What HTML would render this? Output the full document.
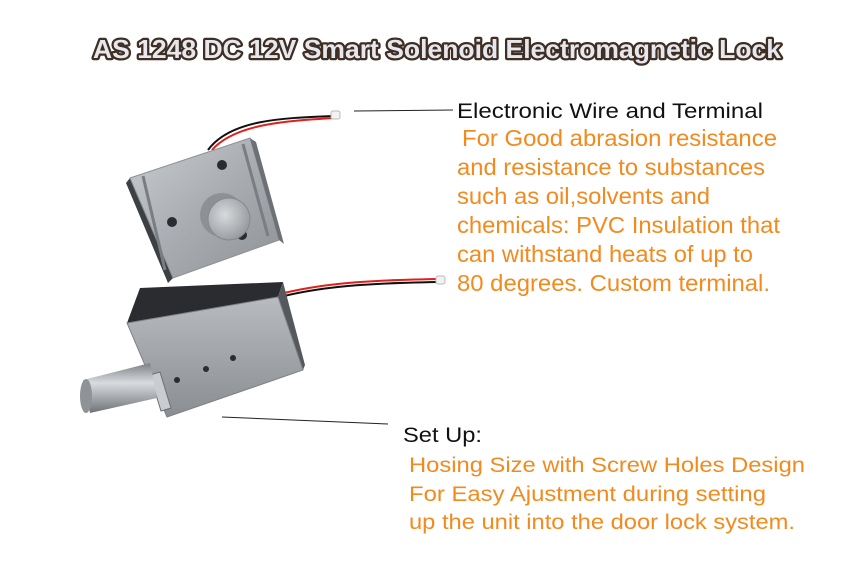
<!DOCTYPE html>
<html><head><meta charset="utf-8"><style>
html,body{margin:0;padding:0;background:#fff;}
svg{display:block}
.o{fill:#f28a1e;font-family:"Liberation Sans",sans-serif;}
.b{fill:#111;font-family:"Liberation Sans",sans-serif;}
</style></head><body>
<svg width="850" height="571" viewBox="0 0 850 571" xmlns="http://www.w3.org/2000/svg">
<defs>
<linearGradient id="m1" x1="0" y1="0" x2="1" y2="1"><stop offset="0" stop-color="#c9cccf"/><stop offset="0.5" stop-color="#a9adb2"/><stop offset="1" stop-color="#8e9297"/></linearGradient>
<linearGradient id="m2" x1="0" y1="0" x2="0" y2="1"><stop offset="0" stop-color="#b8bcc0"/><stop offset="1" stop-color="#8a8e93"/></linearGradient>
<linearGradient id="sh" x1="0" y1="0" x2="0" y2="1"><stop offset="0" stop-color="#7c8085"/><stop offset="0.4" stop-color="#d9dcdf"/><stop offset="1" stop-color="#6e7277"/></linearGradient>
<radialGradient id="cap" cx="0.4" cy="0.4" r="0.6"><stop offset="0" stop-color="#d8dadc"/><stop offset="1" stop-color="#9a9ea3"/></radialGradient>
</defs>
<text x="437" y="58" text-anchor="middle" textLength="688" lengthAdjust="spacingAndGlyphs" font-family="Liberation Sans,sans-serif" font-weight="bold" font-size="26" fill="#e6e8ee" stroke="#3e2e24" stroke-width="4.5" paint-order="stroke" stroke-linejoin="round">AS 1248 DC 12V Smart Solenoid Electromagnetic Lock</text>

<path d="M208,150 C230,120 280,118 334,116" fill="none" stroke="#111" stroke-width="2"/>
<path d="M212,150 C235,124 285,121 334,118" fill="none" stroke="#e0201c" stroke-width="2"/>
<rect x="331" y="111" width="9" height="8" rx="2" fill="#f2f2f2" stroke="#bbb"/>
<polygon points="130,178 126,183 168,283 173,278" fill="#3c3f44"/>
<polygon points="130,178 250,138 279,240 173,278" fill="url(#m1)" stroke="#8d9196"/>
<polygon points="250,138 256,142 284,244 279,240" fill="#6d7176"/>
<line x1="143" y1="176" x2="165" y2="270" stroke="#7a7e83" stroke-width="3"/>
<line x1="243" y1="144" x2="268" y2="236" stroke="#7a7e83" stroke-width="3"/>
<circle cx="222" cy="165" r="5" fill="#2a2c30"/>
<circle cx="172" cy="222" r="5" fill="#2a2c30"/>
<circle cx="242" cy="235" r="5" fill="#2a2c30"/>
<circle cx="222" cy="215" r="22" fill="#8d9196"/>
<circle cx="229" cy="219" r="21" fill="url(#cap)" stroke="#85898e"/>

<path d="M284,296 C330,285 380,283 438,282" fill="none" stroke="#111" stroke-width="2"/>
<path d="M284,293 C330,282 380,280 438,279" fill="none" stroke="#e0201c" stroke-width="2"/>
<rect x="436" y="276" width="9" height="8" rx="2" fill="#f2f2f2" stroke="#bbb"/>
<polygon points="127,323 140,288 283,282 278,297" fill="#2a2c30"/>
<polygon points="278,297 283,282 305,365 303,370" fill="#55595e"/>
<polygon points="127,323 278,297 303,370 167,417" fill="url(#m2)" stroke="#7d8186"/>
<polygon points="150,375 160,372 171,408 161,411" fill="#c9ccd0" stroke="#6d7176"/>
<polygon points="83,380 150,363 157,398 90,413" fill="url(#sh)"/>
<ellipse cx="86" cy="396" rx="6" ry="17" fill="#8f9398"/>
<circle cx="177" cy="380" r="3" fill="#2a2c30"/>
<circle cx="206" cy="369" r="3" fill="#2a2c30"/>
<circle cx="233" cy="358" r="3" fill="#2a2c30"/>

<line x1="354" y1="111" x2="453" y2="110" stroke="#222" stroke-width="1"/>
<line x1="222" y1="417" x2="388" y2="424" stroke="#222" stroke-width="1"/>

<text class="b" x="457" y="118" font-size="21" textLength="306" lengthAdjust="spacingAndGlyphs">Electronic Wire and Terminal</text>
<g class="o" font-size="23">
<text x="462" y="146" textLength="315" lengthAdjust="spacingAndGlyphs">For Good abrasion resistance</text>
<text x="457" y="175" textLength="308" lengthAdjust="spacingAndGlyphs">and resistance to substances</text>
<text x="457" y="204" textLength="253" lengthAdjust="spacingAndGlyphs">such as oil,solvents and</text>
<text x="457" y="233" textLength="323" lengthAdjust="spacingAndGlyphs">chemicals: PVC Insulation that</text>
<text x="457" y="262" textLength="296" lengthAdjust="spacingAndGlyphs">can withstand heats of up to</text>
<text x="457" y="291" textLength="313" lengthAdjust="spacingAndGlyphs">80 degrees. Custom terminal.</text>
</g>
<text class="b" x="403" y="442" font-size="21" textLength="79" lengthAdjust="spacingAndGlyphs">Set Up:</text>
<g class="o" font-size="21.5">
<text x="409" y="472" textLength="396" lengthAdjust="spacingAndGlyphs">Hosing Size with Screw Holes Design</text>
<text x="409" y="501" textLength="357" lengthAdjust="spacingAndGlyphs">For Easy Ajustment during setting</text>
<text x="409" y="529" textLength="386" lengthAdjust="spacingAndGlyphs">up the unit into the door lock system.</text>
</g>
</svg>
</body></html>
